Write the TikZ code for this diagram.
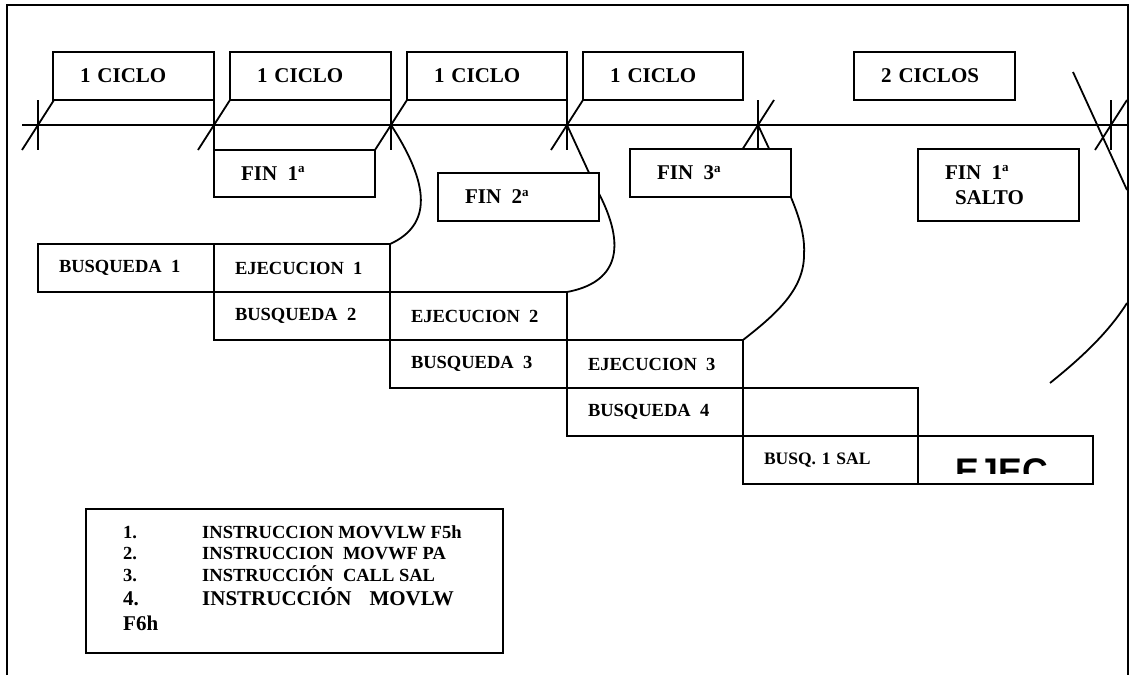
\documentclass[tikz,border=0pt]{standalone}
\usepackage{fontspec}
\setmainfont{Liberation Serif}
\newfontfamily\sansfont{Liberation Sans}
\usetikzlibrary{calc}
\pgfdeclarelayer{background}
\pgfsetlayers{background,main}
% ordinal superscript "a"
\newcommand\ord{\raisebox{0.36em}{\fontsize{13}{13}\selectfont a}}
\begin{document}
\begin{tikzpicture}[x=1pt,y=-1pt,
  frame/.style={line width=2.4pt},
  wire/.style={line width=1.8pt},
  box/.style={draw, fill=white, line width=1.8pt, outer sep=0pt, inner ysep=0pt,
              anchor=north west, align=left},
  big/.style={font=\fontsize{21}{25}\selectfont\bfseries, inner xsep=27pt},
  small/.style={font=\fontsize{18.5}{22}\selectfont\bfseries, inner xsep=21pt},
  legtext/.style={anchor=base west, inner sep=0pt, font=\fontsize{18.5}{22}\selectfont\bfseries},
  legbig/.style={anchor=base west, inner sep=0pt, font=\fontsize{21}{25}\selectfont\bfseries},
]
\useasboundingbox (0,0) rectangle (1130,675);

% cycle boxes above the time axis
\node[box,big,minimum width=161pt,minimum height=48pt,text width=107pt] (c1) at (53,52) {1 CICLO};
\node[box,big,minimum width=161pt,minimum height=48pt,text width=107pt] (c2) at (230,52) {1 CICLO};
\node[box,big,minimum width=160pt,minimum height=48pt,text width=106pt] (c3) at (407,52) {1 CICLO};
\node[box,big,minimum width=160pt,minimum height=48pt,text width=106pt] (c4) at (583,52) {1 CICLO};
\node[box,big,minimum width=161pt,minimum height=48pt,text width=107pt,inner xsep=26pt] (c5) at (854,52) {2 CICLOS};

% end-of-instruction boxes below the axis
\node[box,big,minimum width=161pt,minimum height=47pt,text width=107pt] (f1) at (214,150) {FIN\ \,1\ord};
\node[box,big,minimum width=161pt,minimum height=48pt,text width=107pt] (f2) at (438,173) {FIN\ \,2\ord};
\node[box,big,minimum width=161pt,minimum height=48pt,text width=107pt] (f3) at (630,149) {FIN\ \,3\ord};
\node[box,big,minimum width=161pt,minimum height=72pt,text width=107pt] (f4) at (918,149) {FIN\ \,1\ord\\\hspace*{10pt}SALTO};

% fetch / execute pipeline
\node[box,small,minimum width=176pt,minimum height=48pt,text width=134pt] (b1) at (38,244) {BUSQUEDA\ \,1};
\node[box,small,minimum width=176pt,minimum height=48pt,text width=134pt] (e1) at (214,244) {EJECUCION\ \,1};
\node[box,small,minimum width=176pt,minimum height=48pt,text width=134pt] (b2) at (214,292) {BUSQUEDA\ \,2};
\node[box,small,minimum width=177pt,minimum height=48pt,text width=135pt] (e2) at (390,292) {EJECUCION\ \,2};
\node[box,small,minimum width=177pt,minimum height=48pt,text width=135pt] (b3) at (390,340) {BUSQUEDA\ \,3};
\node[box,small,minimum width=176pt,minimum height=48pt,text width=134pt] (e3) at (567,340) {EJECUCION\ \,3};
\node[box,small,minimum width=176pt,minimum height=48pt,text width=134pt] (b4) at (567,388) {BUSQUEDA\ \,4};
\node[box,small,minimum width=175pt,minimum height=48pt,text width=133pt] (x4) at (743,388) {};
\node[box,small,minimum width=175pt,minimum height=48pt,text width=133pt,
      font=\fontsize{17.5}{21}\selectfont\bfseries] (s1) at (743,436) {BUSQ.\ 1 SAL};
\node[box,minimum width=175pt,minimum height=48pt] (ej) at (918,436) {};
\begin{scope}
  \clip (918,436) rectangle (1093,473);
  \node[anchor=base west, inner sep=0pt, font=\sansfont\bfseries\fontsize{35.6}{40}\selectfont] (ejt) at (955,483.5) {EJEC};
\end{scope}

% instruction list
\node[box,minimum width=417pt,minimum height=144pt] (legend) at (86,509) {};
\node[legtext] (n1) at (123,538) {1.};
\node[legtext] (i1) at (202,538) {INSTRUCCION MOVVLW F5h};
\node[legtext] (n2) at (123,559) {2.};
\node[legtext] (i2) at (202,559) {INSTRUCCION\ \ MOVWF PA};
\node[legtext] (n3) at (123,581) {3.};
\node[legtext] (i3) at (202,581) {INSTRUCCIÓN\ \ CALL SAL};
\node[legbig] (n4) at (123,605) {4.};
\node[legbig] (i4) at (202,605) {INSTRUCCIÓN\hspace{18pt}MOVLW};
\node[legbig] (i5) at (123,630) {F6h};

% time axis, ticks and links between stages (behind the boxes)
\coordinate (t0) at (38,125);
\coordinate (t1) at (214,125);
\coordinate (t2) at (391,125);
\coordinate (t3) at (567,125);
\coordinate (t4) at (758,125);
\coordinate (t5) at (1111,125);
\coordinate (axisL) at (22,125);
\coordinate (axisR) at (1128,125);
\coordinate (jumpA) at (1073,72);
\coordinate (jumpB) at (1127,190);
\coordinate (jumpC) at (1127,303);
\coordinate (jumpD) at (1050,383);

\begin{pgfonlayer}{background}
  \draw[frame] (7,675) -- (7,5) -- (1128,5) -- (1128,675);
  \draw[wire] (axisL) -- (axisR);
  \foreach \t in {t0,t1,t2,t3,t4,t5}{
    \draw[wire] ($(\t)+(0,-25)$) -- ($(\t)+(0,25)$);
    \draw[wire] ($(\t)+(-16,25)$) -- ($(\t)+(16,-25)$);
  }
  \draw[wire] (t2) .. controls (430,185) and (432,225) .. (e1.north east);
  \draw[wire] (t3) -- (596,188) .. controls (630,250) and (615,283) .. (e2.north east);
  \draw[wire] (t4) -- (772,155) .. controls (790,195) and (806,225) .. (804,255)
                   .. controls (804,290) and (775,315) .. (e3.north east);
  \draw[wire] (jumpA) -- (jumpB);
  \draw[wire] (jumpD) .. controls (1085,355) and (1110,330) .. (jumpC);
\end{pgfonlayer}
\end{tikzpicture}
\end{document}
